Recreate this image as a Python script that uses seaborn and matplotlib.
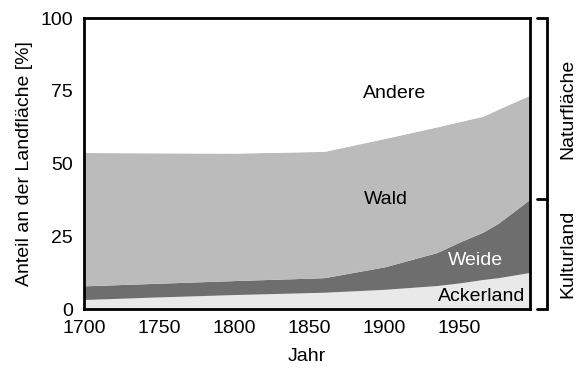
import matplotlib
matplotlib.use("Agg")
import matplotlib.pyplot as plt
import matplotlib.transforms as mtransforms
import numpy as np
import seaborn as sns

# Land use share (cumulative upper edge of each band, percent of land area)
years = [1700, 1750, 1800, 1860, 1900, 1935, 1950, 1966, 1976, 1997]
acker_top = [3.3, 4.2, 5.0, 5.8, 6.8, 8.1, 9.0, 10.2, 10.8, 12.6]
weide_top = [8.0, 8.9, 9.8, 10.8, 14.5, 19.4, 23.0, 26.5, 29.5, 37.7]
wald_top = [53.8, 53.7, 53.6, 54.2, 58.6, 62.6, 64.4, 66.3, 68.7, 73.5]

band_names = ["Ackerland", "Weide", "Wald", "Andere"]
band_colors = ["#e9e9e9", "#6e6e6e", "#bbbbbb", "#ffffff"]
x_ticks = [1700, 1750, 1800, 1850, 1900, 1950]
y_ticks = [0, 25, 50, 75, 100]
kulturland_limit = 37.7

sns.set_theme(style="white")
plt.rcParams["font.family"] = ["Liberation Sans", "DejaVu Sans"]
plt.rcParams["text.color"] = "black"
plt.rcParams["axes.labelcolor"] = "black"

TICK_FS = 14
LABEL_FS = 14

acker = np.array(acker_top)
weide = np.array(weide_top) - acker
wald = np.array(wald_top) - np.array(weide_top)
andere = 100 - np.array(wald_top)

fig = plt.figure(figsize=(5.79, 3.68), dpi=100)
ax = fig.add_axes([0.145, 0.160, 0.770, 0.791])

ax.stackplot(years, acker, weide, wald, andere, colors=band_colors,
             labels=band_names, linewidth=0)

ax.set_xlim(1700, 1997)
ax.set_ylim(0, 100)
ax.set_xticks(x_ticks)
ax.set_yticks(y_ticks)
ax.tick_params(direction="out", length=7, width=2, labelsize=TICK_FS,
               colors="black", labelcolor="black", pad=1)
for s in ax.spines.values():
    s.set_visible(True)
    s.set_linewidth(2)
    s.set_color("black")
ax.set_xlabel("Jahr", fontsize=LABEL_FS, labelpad=8, color="black")
ax.set_ylabel("Anteil an der Landfläche [%]", fontsize=LABEL_FS, labelpad=5,
              color="black")

# Band labels
ax.text(1907, 74.2, "Andere", ha="center", va="center", fontsize=LABEL_FS)
ax.text(1901, 37.5, "Wald", ha="center", va="center", fontsize=LABEL_FS)
ax.text(1961, 16.8, "Weide", ha="center", va="center", fontsize=LABEL_FS,
        color="white")
ax.text(1994, 4.5, "Ackerland", ha="right", va="center", fontsize=LABEL_FS)

# Brackets on the right side
trans = mtransforms.blended_transform_factory(ax.transAxes, ax.transData)
xb, xt = 1.038, 1.016
ax.plot([xt, xb, xb, xt], [100, 100, 0, 0], transform=trans, color="black",
        lw=2, clip_on=False, solid_joinstyle="miter")
ax.plot([xt, xb], [kulturland_limit, kulturland_limit], transform=trans,
        color="black", lw=2, clip_on=False)
ax.text(1.085, (100 + kulturland_limit) / 2, "Naturfläche", transform=trans,
        rotation=90, ha="center", va="center", fontsize=LABEL_FS)
ax.text(1.085, kulturland_limit / 2, "Kulturland", transform=trans,
        rotation=90, ha="center", va="center", fontsize=LABEL_FS)

fig.savefig("out.png", dpi=100)
